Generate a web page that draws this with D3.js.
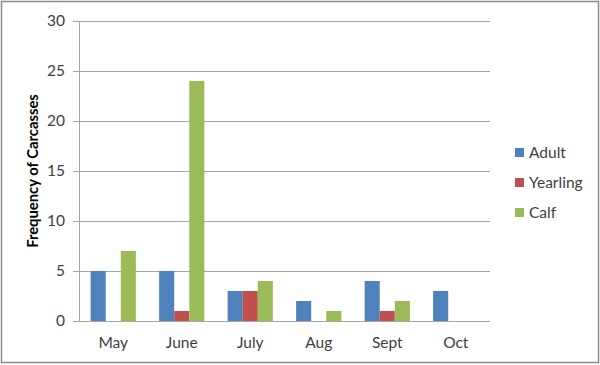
<!DOCTYPE html>
<html><head><meta charset="utf-8">
<script src="https://cdn.jsdelivr.net/npm/d3@7"></script>
<style>body{margin:0;background:#fff}svg{display:block;font-family:Lato,"Open Sans",sans-serif}</style>
</head><body><svg id="c" width="600" height="365"></svg>
<script>
const months = ["May","June","July","Aug","Sept","Oct"];
const seriesNames = ["Adult","Yearling","Calf"];
const adult = [5,5,3,2,4,3];
const yearling = [0,1,3,0,1,0];
const calf = [7,24,4,1,2,0];
const yTicks = [0,5,10,15,20,25,30];
const colors = ["#4F81BD","#C0504D","#9BBB59"];
const values = [adult, yearling, calf];

const svg = d3.select("#c");
svg.append("rect").attr("x",1.5).attr("y",1.5).attr("width",597).attr("height",361)
  .attr("fill","#fff").attr("stroke","#8c8c8c").attr("stroke-width",1.5);

const L=79, R=490, T=21, B=321;
const x = d3.scaleBand().domain(months).range([L,R]).paddingInner(0.34).paddingOuter(0.17);
const xs = d3.scaleBand().domain(seriesNames).range([0,x.bandwidth()]);
const y = d3.scaleLinear().domain([0,30]).range([B,T]);

const g = svg.append("g");
g.selectAll("line.grid").data(yTicks).join("line")
  .attr("x1",L-6).attr("x2",R).attr("y1",d=>Math.round(y(d))+0.5).attr("y2",d=>Math.round(y(d))+0.5)
  .attr("stroke","#a6a6a6").attr("stroke-width",1);
g.append("line").attr("x1",L+0.5).attr("x2",L+0.5).attr("y1",T).attr("y2",B+0.5).attr("stroke","#a6a6a6");

const yAxis = d3.axisLeft(y).tickValues(yTicks).tickSize(0).tickPadding(14);
const ya = svg.append("g").attr("transform",`translate(${L},0)`).call(yAxis);
ya.select(".domain").remove();
ya.selectAll("text").attr("font-size",15.5).attr("fill","#404040").style("font-family","Lato,'Open Sans',sans-serif");

const xAxis = d3.axisBottom(x).tickSize(0).tickPadding(16);
const xa = svg.append("g").attr("transform",`translate(0,${B})`).call(xAxis);
xa.select(".domain").remove();
xa.selectAll("text").attr("font-size",15.5).attr("fill","#404040").style("font-family","Lato,'Open Sans',sans-serif");

seriesNames.forEach((s,i)=>{
  svg.append("g").selectAll("rect").data(months).join("rect")
    .attr("x",m=>x(m)+xs(s)).attr("width",xs.bandwidth())
    .attr("y",(m,j)=>y(values[i][j])).attr("height",(m,j)=>B-y(values[i][j]))
    .attr("fill",colors[i]);
});

svg.append("text").attr("transform","translate(38,171) rotate(-90)")
  .attr("text-anchor","middle").attr("font-weight","bold").attr("font-size",14.8)
  .attr("fill","#000").text("Frequency of Carcasses");

const leg = svg.append("g");
seriesNames.forEach((s,i)=>{
  const yy = 152 + i*30;
  leg.append("rect").attr("x",515).attr("y",yy-4).attr("width",9).attr("height",9).attr("fill",colors[i]);
  leg.append("text").attr("x",529).attr("y",yy+5.5).attr("font-size",15.5).attr("fill","#404040").text(s);
});
</script></body></html>
